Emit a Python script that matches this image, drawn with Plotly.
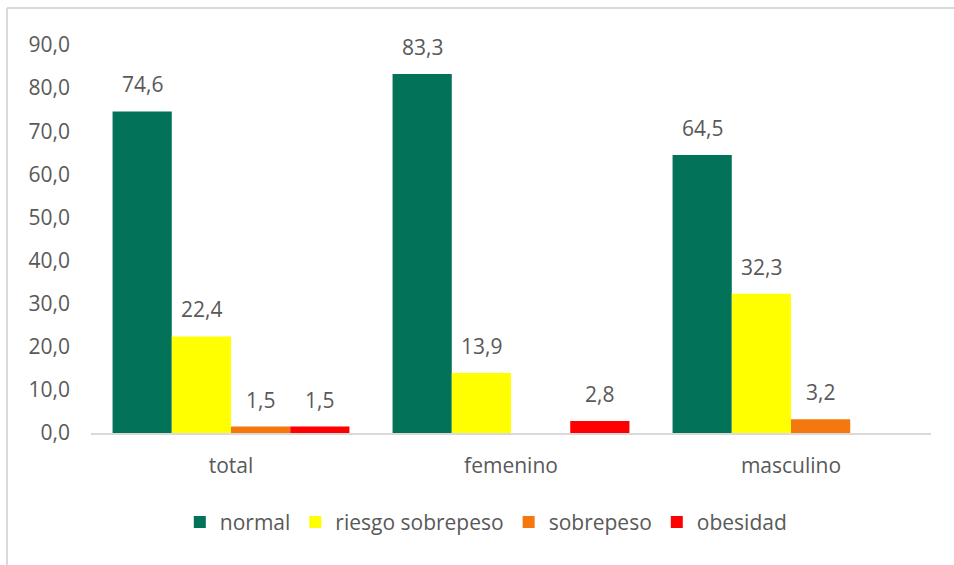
import plotly.graph_objects as go

categories = ["total", "femenino", "masculino"]
series_names = ["normal", "riesgo sobrepeso", "sobrepeso", "obesidad"]
normal = [74.6, 83.3, 64.5]
riesgo_sobrepeso = [22.4, 13.9, 32.3]
sobrepeso = [1.5, None, 3.2]
obesidad = [1.5, 2.8, None]
y_ticks = [0, 10, 20, 30, 40, 50, 60, 70, 80, 90]

values = [normal, riesgo_sobrepeso, sobrepeso, obesidad]
colors = ["#027258", "#FFFF00", "#F4780D", "#FF0000"]
text_color = "#595959"
FONT = "Open Sans"
FS = 21

fig = go.Figure()
for name, vals, col in zip(series_names, values, colors):
    fig.add_trace(go.Bar(
        name=name, x=categories, y=vals,
        marker=dict(color=col, line=dict(width=0)),
        hoverinfo="skip",
    ))

W, H = 954, 565
ml, mr, mt, mb = 91, 23, 45, 132
plot_w = W - ml - mr
plot_h = H - mt - mb
bargap = 0.154
bar_px = plot_w / len(categories) * (1 - bargap) / len(series_names)

annotations = []
for i, vals in enumerate(values):
    for cat, v in zip(categories, vals):
        if v is None:
            continue
        annotations.append(dict(
            x=cat, y=v, xref="x", yref="y",
            text=f"{v:.1f}".replace(".", ","),
            showarrow=False, yanchor="bottom",
            xshift=(i - 1.5) * bar_px, yshift=11,
            font=dict(family=FONT, size=FS, color=text_color),
        ))

bx = (7 - ml) / plot_w
by = (H - mb - 8) / plot_h
border = dict(color="#d9d9d9", width=2)

fig.update_layout(
    width=W, height=H,
    margin=dict(l=ml, r=mr, t=mt, b=mb),
    paper_bgcolor="white", plot_bgcolor="white",
    barmode="group", bargap=bargap, bargroupgap=0,
    separators=",.",
    font=dict(family=FONT, size=FS, color=text_color),
    annotations=annotations,
    legend=dict(
        orientation="h", x=0.47, xanchor="center", y=-0.23, yanchor="middle",
        font=dict(family=FONT, size=FS, color=text_color),
        itemwidth=30, traceorder="normal",
    ),
    shapes=[
        dict(type="line", xref="paper", yref="paper",
             x0=bx, x1=1.2, y0=by, y1=by, line=border),
        dict(type="line", xref="paper", yref="paper",
             x0=bx, x1=bx, y0=-0.5, y1=by, line=border),
    ],
)

fig.update_yaxes(
    range=[0, 90], tickvals=y_ticks, tickformat=".1f",
    showgrid=False, zeroline=False, showline=False, ticks="",
    ticklabelstandoff=20,
    tickfont=dict(family=FONT, size=FS, color=text_color),
)
fig.update_xaxes(
    showline=True, linecolor="#d9d9d9", linewidth=2,
    showgrid=False, ticks="", ticklabelstandoff=13,
    tickfont=dict(family=FONT, size=FS, color=text_color),
)

fig.write_html(
    "out.html",
    config={"displayModeBar": False},
    post_script="document.body.style.margin='0';document.body.style.overflow='hidden';",
)
